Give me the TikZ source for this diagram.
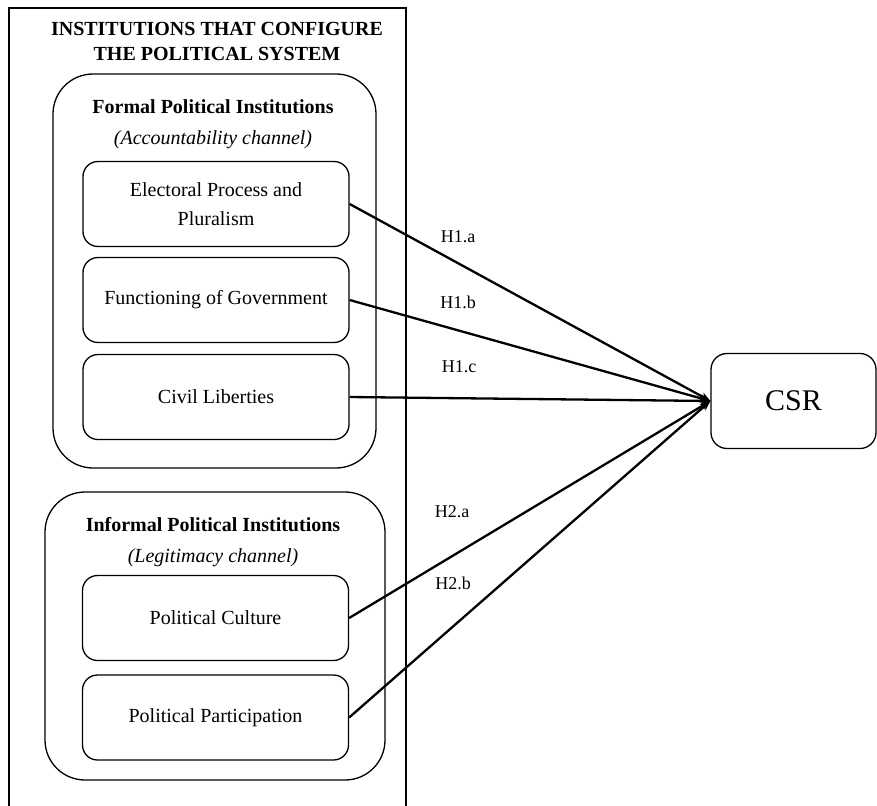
\documentclass[tikz,border=0pt]{standalone}
\usepackage{fontspec}
\setmainfont{Liberation Serif}
\usetikzlibrary{arrows.meta}
\begin{document}
\begin{tikzpicture}[
    x=1pt, y=-1pt,
    group/.style={draw, line width=1.3pt, rounded corners=40pt},
    item/.style={draw, line width=1.3pt, rounded corners=15pt, minimum width=266pt,
        minimum height=85pt, align=center, font=\fontsize{20}{29}\selectfont},
    heading/.style={align=center, font=\fontsize{20}{31}\selectfont},
    hlabel/.style={font=\fontsize{18}{20}\selectfont},
    link/.style={->, line width=2.3pt},
    >={Stealth[length=10pt, width=8pt]}
]
\useasboundingbox (0,0) rectangle (877,805);

% Outer frame
\coordinate (fbl) at (9,806);
\coordinate (fbr) at (406,806);
\draw[line width=1.6pt] (fbl) -- (9,8) -- (406,8) -- (fbr);
\node[align=center, font=\fontsize{20}{25}\selectfont\bfseries] (title) at (217,41)
    {INSTITUTIONS THAT CONFIGURE\\THE POLITICAL SYSTEM};

% Formal institutions
\node[group, minimum width=323pt, minimum height=394pt] (formal) at (214.5,271) {};
\node[heading] (formaltxt) at (213,124)
    {\textbf{Formal Political Institutions}\\\textit{(Accountability channel)}};
\node[item] (elec)  at (216,204) {Electoral Process and\\Pluralism};
\node[item] (func)  at (216,300) {Functioning of Government};
\node[item] (civil) at (216,397) {Civil Liberties};

% Informal institutions
\node[group, minimum width=340pt, minimum height=288pt] (informal) at (215,636) {};
\node[heading] (informaltxt) at (213,542)
    {\textbf{Informal Political Institutions}\\\textit{(Legitimacy channel)}};
\node[item] (culture) at (215.5,618) {Political Culture};
\node[item] (partic)  at (215.5,717.5) {Political Participation};

% Outcome
\node[draw, line width=1.3pt, rounded corners=16pt, minimum width=165pt, minimum height=95pt,
    font=\fontsize{30}{32}\selectfont] (csr) at (793.5,401) {CSR};

\draw[link] (elec.east)    -- (csr.west);
\draw[link] (func.east)    -- (csr.west);
\draw[link] (civil.east)   -- (csr.west);
\draw[link] (culture.east) -- (csr.west);
\draw[link] (partic.east)  -- (csr.west);

\node[hlabel] (h1a) at (458,237) {H1.a};
\node[hlabel] (h1b) at (458,302) {H1.b};
\node[hlabel] (h1c) at (459,367) {H1.c};
\node[hlabel] (h2a) at (452,512) {H2.a};
\node[hlabel] (h2b) at (453,583) {H2.b};
\end{tikzpicture}
\end{document}
